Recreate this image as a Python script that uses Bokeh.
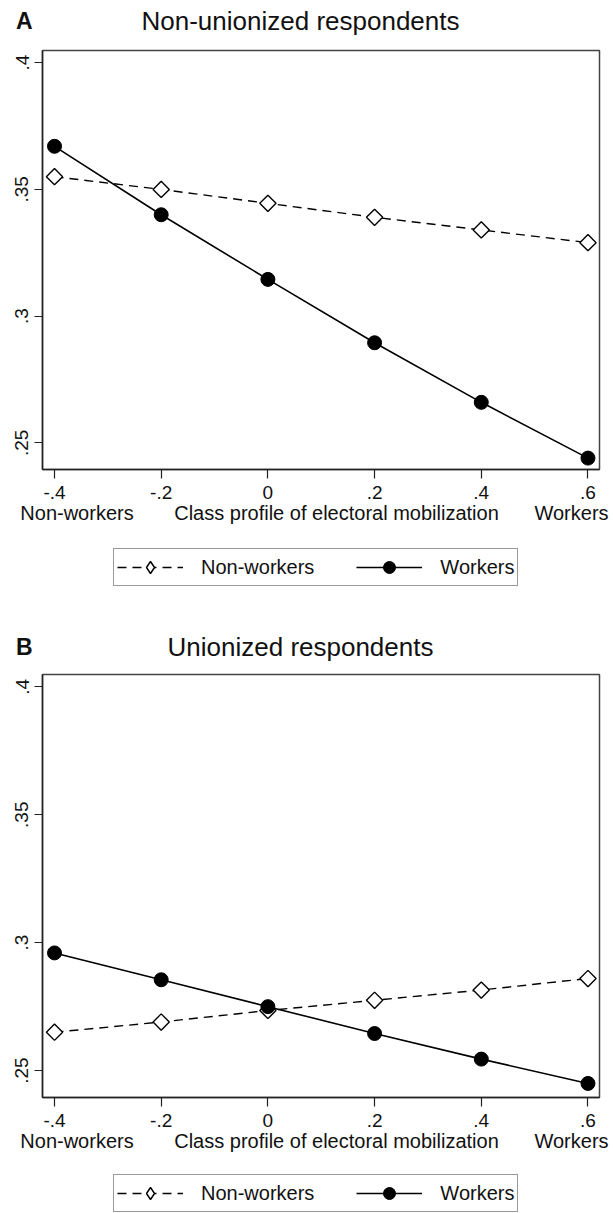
from bokeh.plotting import figure
from bokeh.models import Range1d, FixedTicker, Label, Legend, LegendItem, LinearAxis
from bokeh.layouts import column
from bokeh.embed import file_html
from bokeh.resources import INLINE

# ---- data ----
x_vals = [-0.4, -0.2, 0.0, 0.2, 0.4, 0.6]
x_tick_labels = ["-.4", "-.2", "0", ".2", ".4", ".6"]
y_ticks = [0.25, 0.3, 0.35, 0.4]
y_tick_labels = [".25", ".3", ".35", ".4"]

a_nonworkers = [0.355, 0.350, 0.3445, 0.339, 0.334, 0.329]
a_workers = [0.367, 0.340, 0.3145, 0.2895, 0.266, 0.244]
b_nonworkers = [0.265, 0.269, 0.2735, 0.2775, 0.2815, 0.286]
b_workers = [0.296, 0.2855, 0.275, 0.2645, 0.2545, 0.245]

series_names = ["Non-workers", "Workers"]
x_title_parts = ["Non-workers", "Class profile of electoral mobilization", "Workers"]
titles = ["Non-unionized respondents", "Unionized respondents"]
letters = ["A", "B"]

FONT = "Liberation Sans"
TXT = "#111111"
LEFT, FW, RIGHT = 42, 557, 14          # page x of frame: 42 .. 599
X0, X1 = -0.4225, 0.6216
Y0, Y1 = 0.2395, 0.4048


def xd(page_x):
    return X0 + (page_x - LEFT) * (X1 - X0) / FW


def base(frame_h, xr, yr, top_b=0, bot_b=0, yaxis=None):
    return figure(frame_width=FW, frame_height=frame_h,
                  min_border_left=LEFT, min_border_right=RIGHT,
                  min_border_top=top_b, min_border_bottom=bot_b,
                  x_range=xr, y_range=yr, x_axis_location=None,
                  y_axis_location=yaxis, toolbar_location=None,
                  output_backend="svg", title=None)


def clean(f):
    f.outline_line_color = None
    f.grid.visible = False
    f.background_fill_color = "white"
    f.border_fill_color = "white"


def letter_axis(f, y, letter):
    ax = f.yaxis[0]
    ax.ticker = FixedTicker(ticks=[y])
    ax.major_label_overrides = {y: letter}
    ax.axis_line_color = None
    ax.major_tick_line_color = None
    ax.minor_tick_line_color = None
    ax.major_tick_out = 0
    ax.major_tick_in = 0
    ax.major_label_standoff = 10
    ax.major_label_orientation = "horizontal"
    ax.major_label_text_font = FONT
    ax.major_label_text_font_size = "23px"
    ax.major_label_text_font_style = "bold"
    ax.major_label_text_color = TXT


def title_label(f, y, text):
    f.add_layout(Label(x=300, y=y, text=text, text_font=FONT, text_font_size="26px",
                       text_align="center", text_baseline="middle", text_color=TXT))


def add_legend(f, nonw, work, loc_y):
    # legend keys (not drawn on the canvas; the legend shows their styles)
    l1 = f.line(x_vals, nonw, line_color="black", line_width=1.4, line_dash="9 6", visible=False)
    s1 = f.scatter(x_vals, nonw, marker="diamond", size=14, fill_color="white",
                   line_color="black", line_width=1.4, visible=False)
    l2 = f.line(x_vals, work, line_color="black", line_width=1.6, visible=False)
    s2 = f.scatter(x_vals, work, marker="circle", size=14, fill_color="black",
                   line_color="black", visible=False)
    legend = Legend(items=[LegendItem(label=series_names[0], renderers=[l1, s1]),
                           LegendItem(label=series_names[1], renderers=[l2, s2])],
                    location=(71, loc_y), orientation="horizontal",
                    glyph_width=66, glyph_height=30, label_standoff=18,
                    spacing=42, padding=3, margin=0,
                    label_text_font=FONT, label_text_font_size="20px",
                    label_text_color=TXT, inactive_fill_alpha=0.0,
                    border_line_color="#333333", border_line_width=1.2,
                    background_fill_color="white", background_fill_alpha=1.0)
    f.add_layout(legend, "center")


def panel(nonw, work, frame_h):
    p = base(frame_h, Range1d(X0, X1), Range1d(Y0, Y1), top_b=1, bot_b=63, yaxis="left")
    p.add_layout(LinearAxis(), "below")
    p.background_fill_color = "white"
    p.border_fill_color = "white"
    p.outline_line_color = "#444444"
    p.outline_line_width = 1.5
    p.grid.visible = False

    for ax in (p.xaxis[0], p.yaxis[0]):
        ax.axis_line_color = "#222222"
        ax.axis_line_width = 1.5
        ax.major_tick_line_color = "#222222"
        ax.major_tick_line_width = 1.2
        ax.major_tick_in = 0
        ax.minor_tick_line_color = None
        ax.major_label_text_font = FONT
        ax.major_label_text_font_size = "19px"
        ax.major_label_text_color = TXT

    p.xaxis[0].ticker = FixedTicker(ticks=x_vals)
    p.xaxis[0].major_label_overrides = {t: s for t, s in zip(x_vals, x_tick_labels)}
    p.xaxis[0].major_tick_out = 9
    p.xaxis[0].major_label_standoff = 7
    p.yaxis[0].ticker = FixedTicker(ticks=y_ticks)
    p.yaxis[0].major_label_overrides = {t: s for t, s in zip(y_ticks, y_tick_labels)}
    p.yaxis[0].major_label_orientation = "vertical"
    p.yaxis[0].major_tick_out = 8
    p.yaxis[0].major_label_standoff = 6

    centers = [xd(76.5), xd(336), xd(571)]
    ax2 = LinearAxis(ticker=FixedTicker(ticks=centers),
                     major_label_overrides={c: s for c, s in zip(centers, x_title_parts)},
                     axis_line_color=None, major_tick_line_color=None,
                     minor_tick_line_color=None, major_tick_out=0, major_tick_in=0,
                     major_label_standoff=0,
                     major_label_text_font=FONT, major_label_text_font_size="20px",
                     major_label_text_color=TXT)
    p.add_layout(ax2, "below")

    p.line(x_vals, nonw, line_color="black", line_width=1.4, line_dash="9 6")
    p.scatter(x_vals, nonw, marker="square", angle=0.785398, size=11.5,
              fill_color="white", line_color="black", line_width=1.4)
    p.line(x_vals, work, line_color="black", line_width=1.6)
    p.scatter(x_vals, work, marker="circle", size=14, fill_color="black", line_color="black")
    return p


# header A: page y 0..49
hA = base(49, Range1d(LEFT, LEFT + FW), Range1d(49, 0), yaxis="left")
clean(hA)
letter_axis(hA, 20.0, letters[0])
title_label(hA, 20.5, titles[0])

pA = panel(a_nonworkers, a_workers, 419)          # page 49..532

# middle: legend A + header B, page y 532..673
mid = base(141, Range1d(LEFT, LEFT + FW), Range1d(673, 532), yaxis="left")
clean(mid)
add_legend(mid, a_nonworkers, a_workers, 87)
letter_axis(mid, 646.0, letters[1])
title_label(mid, 646.5, titles[1])

pB = panel(b_nonworkers, b_workers, 423)          # page 673..1160

# footer B: page y 1160..1213
fB = base(53, Range1d(LEFT, LEFT + FW), Range1d(1213, 1160))
clean(fB)
add_legend(fB, b_nonworkers, b_workers, 1)

layout = column(hA, pA, mid, pB, fB, spacing=0)
open("out.html", "w").write(file_html(layout, INLINE))
